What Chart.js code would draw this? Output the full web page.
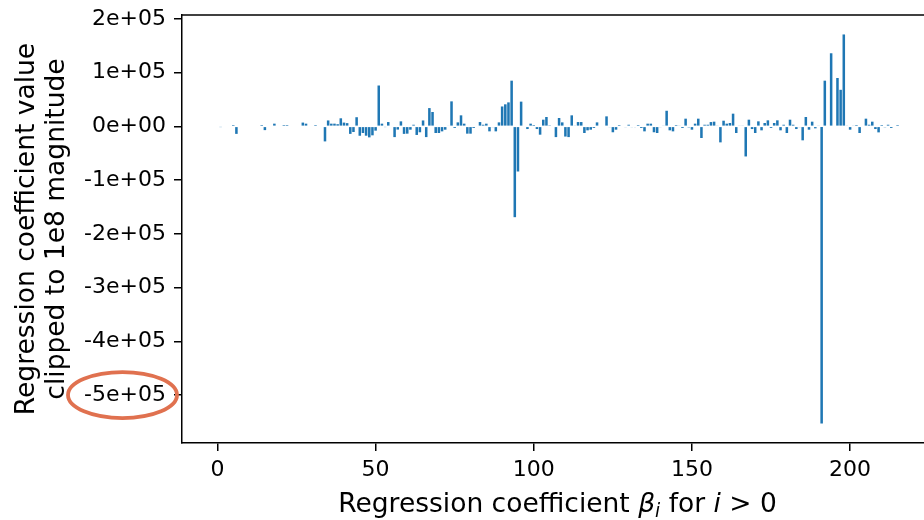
<!DOCTYPE html>
<html>
<head>
<meta charset="utf-8">
<script src="https://cdn.jsdelivr.net/npm/chart.js@4.4.1/dist/chart.umd.min.js"></script>
<style>
  html, body { margin: 0; padding: 0; background: #fff; overflow: hidden; }
  #wrap { position: relative; width: 924px; height: 520px; overflow: hidden; }
  canvas { display: block; }
</style>
</head>
<body>
<div id="wrap"><canvas id="coefChart" width="940" height="520"></canvas></div>
<script>
// ── Data ────────────────────────────────────────────────────────────────
// regression coefficients beta_1 .. beta_215
const coefValues = [
  -1000, 0, 0, 0, 2500, -14000, 0, 0, 0, 0,                     // 1-10
  0, 0, 0, 2500, -7000, 0, 0, 5000, 0, 0,                       // 11-20
  2500, 2500, 0, 0, 0, 0, 7000, 5000, 0, 0,                     // 21-30
  2500, 0, 0, -28000, 11000, 5000, 5000, 4000, 15000, 7000,     // 31-40
  6000, -14000, -10500, 17000, -17500, -12400, -17400, -20500, -16700, -8000, // 41-50
  76000, 5000, -1000, 8000, 0, -20000, -6000, 9300, -14000, -13600,          // 51-60
  -6200, 3000, -16000, -11000, 11000, -20000, 34000, 26700, -12400, -12400,  // 61-70
  -9300, -6200, 1500, 46500, -3000, 7400, 20500, 5000, -13600, -13600,       // 71-80
  -3000, 0, 8000, 3000, 5000, -9300, -1200, -9300, 7400, 37000,              // 81-90
  41000, 44600, 85000, -169000, -84000, 46000, 0, -5000, 5000, 2500,         // 91-100
  -5000, -15500, 12400, 17400, 800, 0, -20000, 15500, 7400, -19000,          // 101-110
  -20000, 20500, 1200, 8000, 8000, -12400, -7400, -6200, -3000, 7400,        // 111-120
  0, 0, 18600, -1200, -11000, -6200, 2500, 0, -1200, 3000,                   // 121-130
  -1200, -1200, 2500, -3000, -9300, 5000, 5000, -11000, -12400, -1200,       // 131-140
  1200, 29000, -7400, -9300, 2500, 1200, -3000, 14300, -2000, -6200,         // 141-150
  5000, 14300, -21700, 3000, 3000, 8000, 8700, 1200, -29800, 10500,          // 151-160
  5000, 6200, 23600, -12400, 1200, 1200, -56000, 12400, -5000, -12400,       // 161-170
  9300, -7400, 6200, 11200, -3000, 6200, 11200, -7400, 3000, -12400,         // 171-180
  12400, 3000, -5000, -1200, -26000, 17400, -6200, 8700, -3700, 1200,        // 181-190
  -553000, 85000, 0, 136000, 0, 90000, 68000, 171000, 1200, -6200,           // 191-200
  1200, 2500, -12400, 0, 14300, 3000, 8700, -5000, -11200, 2500,             // 201-210
  -1800, 3000, -3000, 0, 2500                                                 // 211-215
];
const coefIndex = coefValues.map((_, i) => i + 1);

const xTicks = [0, 50, 100, 150, 200];
const yTicks = [200000, 100000, 0, -100000, -200000, -300000, -400000, -500000];
const yTickLabels = ['2e+05', '1e+05', '0e+00', '-1e+05', '-2e+05', '-3e+05', '-4e+05', '-5e+05'];
const yLabelLines = ['Regression coefficient value', 'clipped to 1e8 magnitude'];

// axis extents (matplotlib 5% margins)
const xMin = -11.2, xMax = 226.2;
const yMin = -589200, yMax = 207200;

// ── Styling ─────────────────────────────────────────────────────────────
const FONT = 'DejaVu Sans';
const barColor = '#1f77b4';
const noteColor = '#e0714f';

// ── Extra drawing: top spine, x label with math, highlight ellipse ──────
const frameAndNotes = {
    id: 'frameAndNotes',
    afterDraw: (chart) => {
        const { ctx, chartArea: a, scales: { y } } = chart;
        ctx.save();

        ctx.strokeStyle = '#000';
        ctx.lineWidth = 1.5;
        ctx.beginPath();
        ctx.moveTo(a.left - 0.75, a.top);
        ctx.lineTo(a.right, a.top);
        ctx.stroke();

        // x label: "Regression coefficient β_i for i > 0"
        const size = 26.5;
        const parts = [
            { t: 'Regression coefficient ', f: `${size}px "${FONT}"`, dy: 0 },
            { t: 'β', f: `italic ${size}px "${FONT}"`, dy: 0 },
            { t: 'i', f: `italic ${size * 0.7}px "${FONT}"`, dy: size * 0.2 },
            { t: ' for ', f: `${size}px "${FONT}"`, dy: 0 },
            { t: 'i', f: `italic ${size}px "${FONT}"`, dy: 0 },
            { t: ' > ', f: `${size}px "${FONT}"`, dy: 0 },
            { t: '0', f: `${size}px "${FONT}"`, dy: 0 }
        ];
        let total = 0;
        parts.forEach(p => { ctx.font = p.f; p.w = ctx.measureText(p.t).width; total += p.w; });
        let x = (a.left + a.right) / 2 - total / 2;
        const base = a.bottom + 69;
        ctx.fillStyle = '#000';
        ctx.textBaseline = 'alphabetic';
        ctx.textAlign = 'left';
        parts.forEach(p => { ctx.font = p.f; ctx.fillText(p.t, x, base + p.dy); x += p.w; });

        // orange ring round the lowest tick label
        ctx.strokeStyle = noteColor;
        ctx.lineWidth = 3.8;
        ctx.beginPath();
        ctx.ellipse(a.left - 59.5, y.getPixelForValue(-500000), 54.5, 23, 0, 0, Math.PI * 2);
        ctx.stroke();

        ctx.restore();
    }
};

// ── Chart ───────────────────────────────────────────────────────────────
new Chart(document.getElementById('coefChart'), {
    type: 'bar',
    data: {
        datasets: [{
            data: coefValues.map((v, i) => ({ x: coefIndex[i], y: v })),
            backgroundColor: barColor,
            borderWidth: 0,
            barPercentage: 0.8,
            categoryPercentage: 1.0
        }]
    },
    options: {
        responsive: false,
        animation: false,
        devicePixelRatio: 1,
        layout: { padding: { left: 0, right: 7, top: 15, bottom: 0 } },
        plugins: { legend: { display: false }, tooltip: { enabled: false } },
        scales: {
            x: {
                type: 'linear',
                min: xMin,
                max: xMax,
                offset: false,
                afterFit: s => { s.height = 77; s.paddingLeft = 0; s.paddingRight = 0; },
                afterBuildTicks: s => { s.ticks = xTicks.map(v => ({ value: v })); },
                ticks: { color: '#000', font: { family: FONT, size: 22 }, padding: 6, maxRotation: 0, autoSkip: false },
                grid: { offset: false, drawOnChartArea: false, drawTicks: true, tickLength: 8, color: '#000', lineWidth: 1.5 },
                border: { display: true, color: '#000', width: 1.5 }
            },
            y: {
                min: yMin,
                max: yMax,
                afterFit: s => { s.width = 182; s.paddingTop = 0; s.paddingBottom = 0; },
                afterBuildTicks: s => { s.ticks = yTicks.map(v => ({ value: v })); },
                ticks: {
                    color: '#000',
                    font: { family: FONT, size: 22 },
                    padding: 8,
                    callback: v => yTickLabels[yTicks.indexOf(v)]
                },
                grid: { drawOnChartArea: false, drawTicks: true, tickLength: 8, color: '#000', lineWidth: 1.5 },
                border: { display: true, color: '#000', width: 1.5 },
                title: {
                    display: true,
                    text: yLabelLines,
                    color: '#000',
                    font: { family: FONT, size: 26.5, lineHeight: 1.13 },
                    padding: { top: 12, bottom: 0 }
                }
            }
        }
    },
    plugins: [frameAndNotes]
});
</script>
</body>
</html>
